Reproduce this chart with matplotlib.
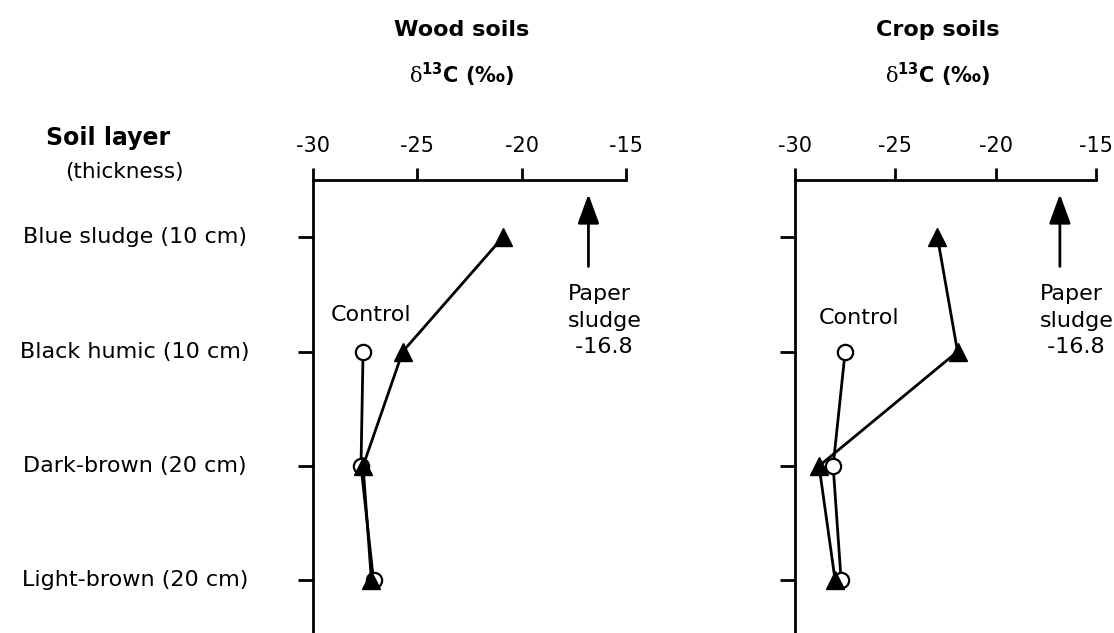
import numpy as np
import matplotlib
matplotlib.use("Agg")
import matplotlib.pyplot as plt
from matplotlib.transforms import blended_transform_factory

plt.rcParams['font.family'] = ['DejaVu Sans']
plt.rcParams['axes.unicode_minus'] = False
plt.rcParams['mathtext.fontset'] = 'custom'
plt.rcParams['mathtext.rm'] = 'DejaVu Serif'
plt.rcParams['mathtext.bf'] = 'DejaVu Sans:bold'

# soil layers, top to bottom
layers = ["Blue sludge (10 cm)", "Black humic (10 cm)",
          "Dark-brown (20 cm)", "Light-brown (20 cm)"]
xticks = [-30, -25, -20, -15]
paper_sludge = -16.8

# delta 13C values (nan = no control in blue sludge)
wood_sludge = [-20.9, -25.7, -27.6, -27.2]
wood_control = [np.nan, -27.6, -27.7, -27.1]
crop_sludge = [-22.9, -21.9, -28.8, -28.0]
crop_control = [np.nan, -27.5, -28.1, -27.7]

panels = [
    ("Wood soils", wood_sludge, wood_control, 313, 626, (-27.2, 0.68)),
    ("Crop soils", crop_sludge, crop_control, 795, 1096, (-26.8, 0.71)),
]

W, H = 1114, 633
fig = plt.figure(figsize=(W / 100, H / 100), dpi=100)

y = np.arange(len(layers))
for i, (title, sludge, control, x0, x1, ctrl_pos) in enumerate(panels):
    ax = fig.add_axes([x0 / W, 0, (x1 - x0) / W, 1 - 180 / H])
    ax.set_xlim(-30, -15)
    ax.set_ylim(3.46, -0.5)

    ctrl = np.array(control)
    ok = ~np.isnan(ctrl)
    ax.plot(ctrl[ok], y[ok], color='black', lw=2.0, marker='o', ms=11,
            mfc='white', mec='black', mew=1.6, zorder=3)
    ax.plot(sludge, y, color='black', lw=2.0, marker='^', ms=13,
            mfc='black', mec='black', zorder=4)

    for s in ['right', 'bottom']:
        ax.spines[s].set_visible(False)
    for s in ['left', 'top']:
        ax.spines[s].set_linewidth(2.0)
    ax.xaxis.tick_top()
    ax.set_xticks(xticks)
    ax.set_xticklabels([str(t) for t in xticks], fontsize=15)
    ax.tick_params(axis='x', direction='out', length=9, width=2.0, pad=8)
    ax.set_yticks(y)
    ax.set_yticklabels([])
    ax.tick_params(axis='y', direction='out', length=11, width=2.0)

    ax.text(ctrl_pos[0], ctrl_pos[1], "Control", fontsize=16,
            ha='center', va='center')
    ax.annotate('', xy=(paper_sludge, -0.40), xytext=(paper_sludge, 0.28),
                arrowprops=dict(arrowstyle='-|>,head_length=0.9,head_width=0.33',
                                color='black', lw=2.0, mutation_scale=20))
    ax.text(paper_sludge - 1.0, 0.73, "Paper\nsludge\n -16.8", fontsize=16,
            ha='left', va='center', linespacing=1.4)

    cx = (x0 + x1) / 2 / W - 0.007
    fig.text(cx, 1 - 30 / H, title, fontsize=16, fontweight='bold',
             ha='center', va='center')
    fig.text(cx, 1 - 75 / H, r'$\mathrm{\delta}^{\mathbf{13}}$C (‰)',
             fontsize=15, fontweight='bold', ha='center', va='center')

    if i == 0:
        tr = blended_transform_factory(fig.transFigure, ax.transData)
        for yy, lab in zip(y, layers):
            ax.text(135 / W, yy, lab, fontsize=16, ha='center', va='center',
                    transform=tr)

fig.text(108 / W, 1 - 138 / H, "Soil layer", fontsize=17, fontweight='bold',
         ha='center', va='center')
fig.text(124 / W, 1 - 172 / H, "(thickness)", fontsize=15.5,
         ha='center', va='center')

fig.savefig("out.png", dpi=100)
